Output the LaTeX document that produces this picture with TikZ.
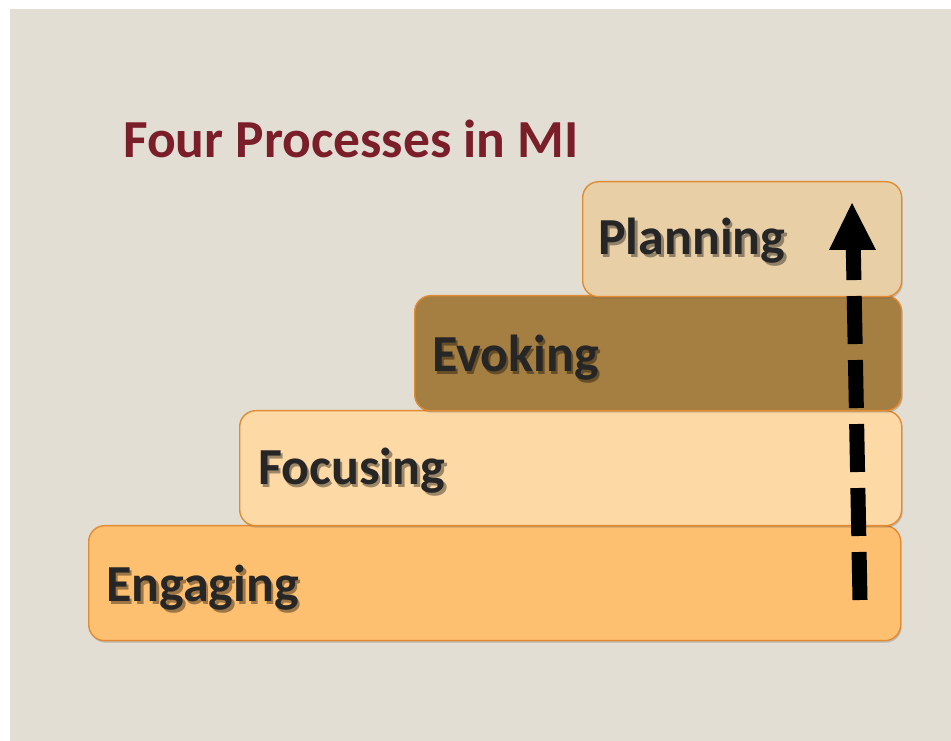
\documentclass[tikz,border=0pt]{standalone}
\usepackage{fontspec}
\setmainfont{Carlito}
\usetikzlibrary{shadows}
\definecolor{pagebg}{HTML}{E3DED3}
\definecolor{titlered}{HTML}{7A1E2A}
\definecolor{edgeorange}{HTML}{E08C33}
\definecolor{planfill}{HTML}{E8CFA6}
\definecolor{evokefill}{HTML}{A57E41}
\definecolor{focusfill}{HTML}{FDD9A6}
\definecolor{engagefill}{HTML}{FDBF70}
\definecolor{labeltext}{HTML}{262626}
\tikzset{
  stagebox/.style={draw=edgeorange, line width=1.4pt, rounded corners=16pt,
    minimum height=115pt, anchor=north west, inner sep=0pt,
    drop shadow={shadow xshift=1pt, shadow yshift=-2pt, opacity=0.25, fill=black!70}},
  stagelabel/.style={anchor=base west, inner sep=0pt, text=labeltext,
    font=\bfseries\fontsize{52}{52}\selectfont},
  dashline/.style={line width=15pt, dash pattern=on 48pt off 16pt},
}
% label text with a shadow set behind it, tinted from the box fill (#1)
\newcommand\shadedword[2]{%
  \makebox[0pt][l]{\hspace{2.5pt}\raisebox{-2.5pt}{\color{#1!62!black}#2}}#2}
% label placed relative to a box's north-west corner
\newcommand\stagetext[5]{%
  \node[stagelabel] (#1text) at ([xshift=#2, yshift=-#3]#1.north west) {\shadedword{#5}{#4}};
}
\begin{document}
\begin{tikzpicture}[x=1pt, y=1pt]
  % page and panel
  \fill[white] (0,0) rectangle (951,741);
  \fill[pagebg] (10,0) rectangle (951,732);
  \useasboundingbox (0,0) rectangle (951,741);

  % title
  \node[anchor=base west, inner sep=0pt, text=titlered,
        font=\bfseries\fontsize{53.5}{53.5}\selectfont] (title) at (123,583) {Four Processes in MI};

  % stair boxes, from the bottom step up
  \node[stagebox, fill=engagefill, minimum width=812pt] (engage) at (88,216) {};
  \node[stagebox, fill=focusfill, minimum width=662pt] (focus) at (239,331) {};
  \node[stagebox, fill=evokefill, minimum width=487pt] (evoke) at (414,446) {};
  \node[stagebox, fill=planfill, minimum width=319pt] (plan) at (582,560) {};

  \stagetext{engage}{18pt}{77pt}{Engaging}{engagefill}
  \stagetext{focus}{19pt}{75pt}{Focusing}{focusfill}
  \stagetext{evoke}{18pt}{77pt}{Evoking}{evokefill}
  \stagetext{plan}{16pt}{74pt}{Planning}{planfill}

  % dashed progress arrow
  \coordinate (arrowfoot) at (860,141);
  \coordinate (arrowtop) at (853,509);
  \coordinate (headleft) at (829,491);
  \coordinate (headright) at (876,491);
  \coordinate (headtip) at (852,538);
  \draw[dashline] (arrowfoot) -- (arrowtop);
  \fill[black] (headleft) -- (headtip) -- (headright) -- cycle;
\end{tikzpicture}
\end{document}
